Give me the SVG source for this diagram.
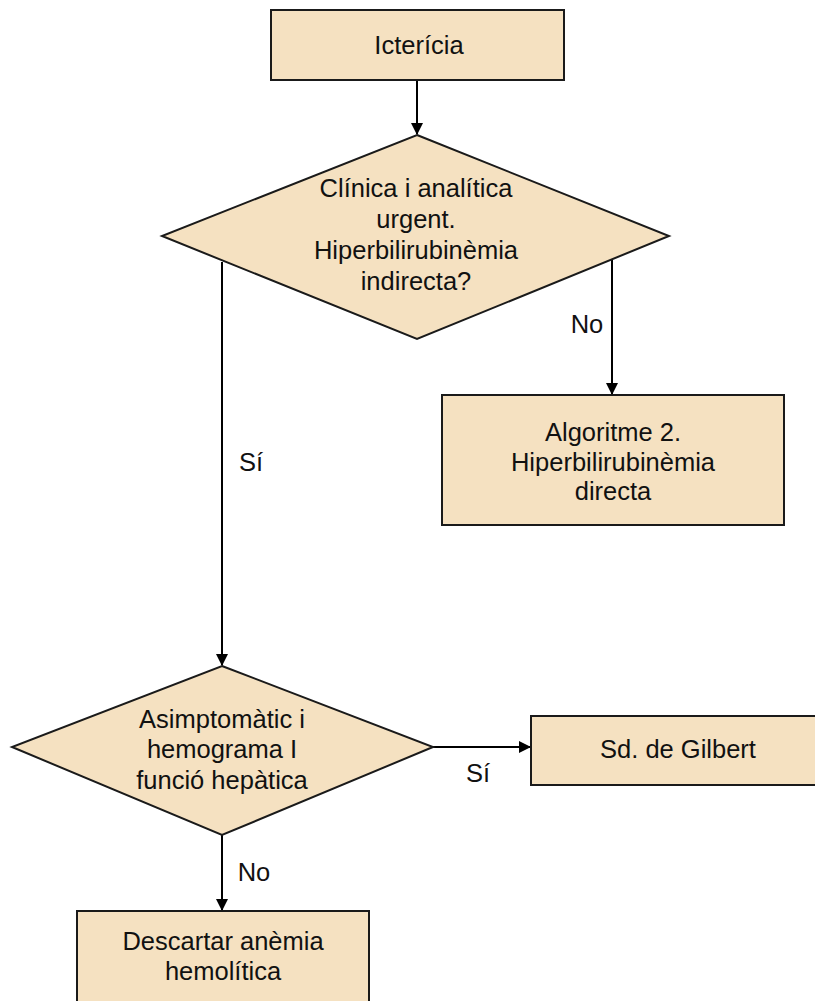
<svg xmlns="http://www.w3.org/2000/svg" width="815" height="1001" viewBox="0 0 815 1001">
<defs>
<style>
.n{fill:#F5E1C1;stroke:#1a1a1a;stroke-width:2}
.t{font-family:"Liberation Sans",Arial,sans-serif;font-size:25.5px;fill:#111;text-anchor:middle}
.c{stroke:#000;stroke-width:2;fill:none;marker-end:url(#ah)}
</style>
<marker id="ah" markerWidth="12" markerHeight="12" refX="11" refY="6" orient="auto" markerUnits="userSpaceOnUse">
<path d="M0,0 L12,6 L0,12 Z" fill="#000"/>
</marker>
</defs>
<rect width="815" height="1001" fill="#fff"/>
<g id="connectors">
<path class="c" d="M417,80 V134"/>
<path class="c" d="M222,262 V665"/>
<path class="c" d="M612,259 V394"/>
<path class="c" d="M433,747 H530"/>
<path class="c" d="M222,835 V910"/>
<text class="t" x="251" y="471">Sí</text>
<text class="t" x="587" y="333">No</text>
<text class="t" x="478" y="782">Sí</text>
<text class="t" x="254" y="881">No</text>
</g>
<g id="n1">
<rect class="n" x="271" y="10" width="293" height="70"/>
<text class="t" x="419" y="54">Icterícia</text>
</g>
<g id="n2">
<polygon class="n" points="417,135 669,236 417,339 162,236"/>
<text class="t" x="416" y="197">Clínica i analítica</text>
<text class="t" x="416" y="228">urgent.</text>
<text class="t" x="416" y="259">Hiperbilirubinèmia</text>
<text class="t" x="416" y="290">indirecta?</text>
</g>
<g id="n3">
<rect class="n" x="442" y="395" width="342" height="130"/>
<text class="t" x="613" y="441">Algoritme 2.</text>
<text class="t" x="613" y="471">Hiperbilirubinèmia</text>
<text class="t" x="613" y="500">directa</text>
</g>
<g id="n4">
<polygon class="n" points="222,666 433,747 222,835 12,747"/>
<text class="t" x="222" y="728">Asimptomàtic i</text>
<text class="t" x="222" y="758">hemograma I</text>
<text class="t" x="222" y="789">funció hepàtica</text>
</g>
<g id="n5">
<rect class="n" x="531" y="716" width="290" height="69"/>
<text class="t" x="678" y="758">Sd. de Gilbert</text>
</g>
<g id="n6">
<rect class="n" x="77" y="911" width="292" height="100"/>
<text class="t" x="223" y="950">Descartar anèmia</text>
<text class="t" x="223" y="980">hemolítica</text>
</g>
</svg>
